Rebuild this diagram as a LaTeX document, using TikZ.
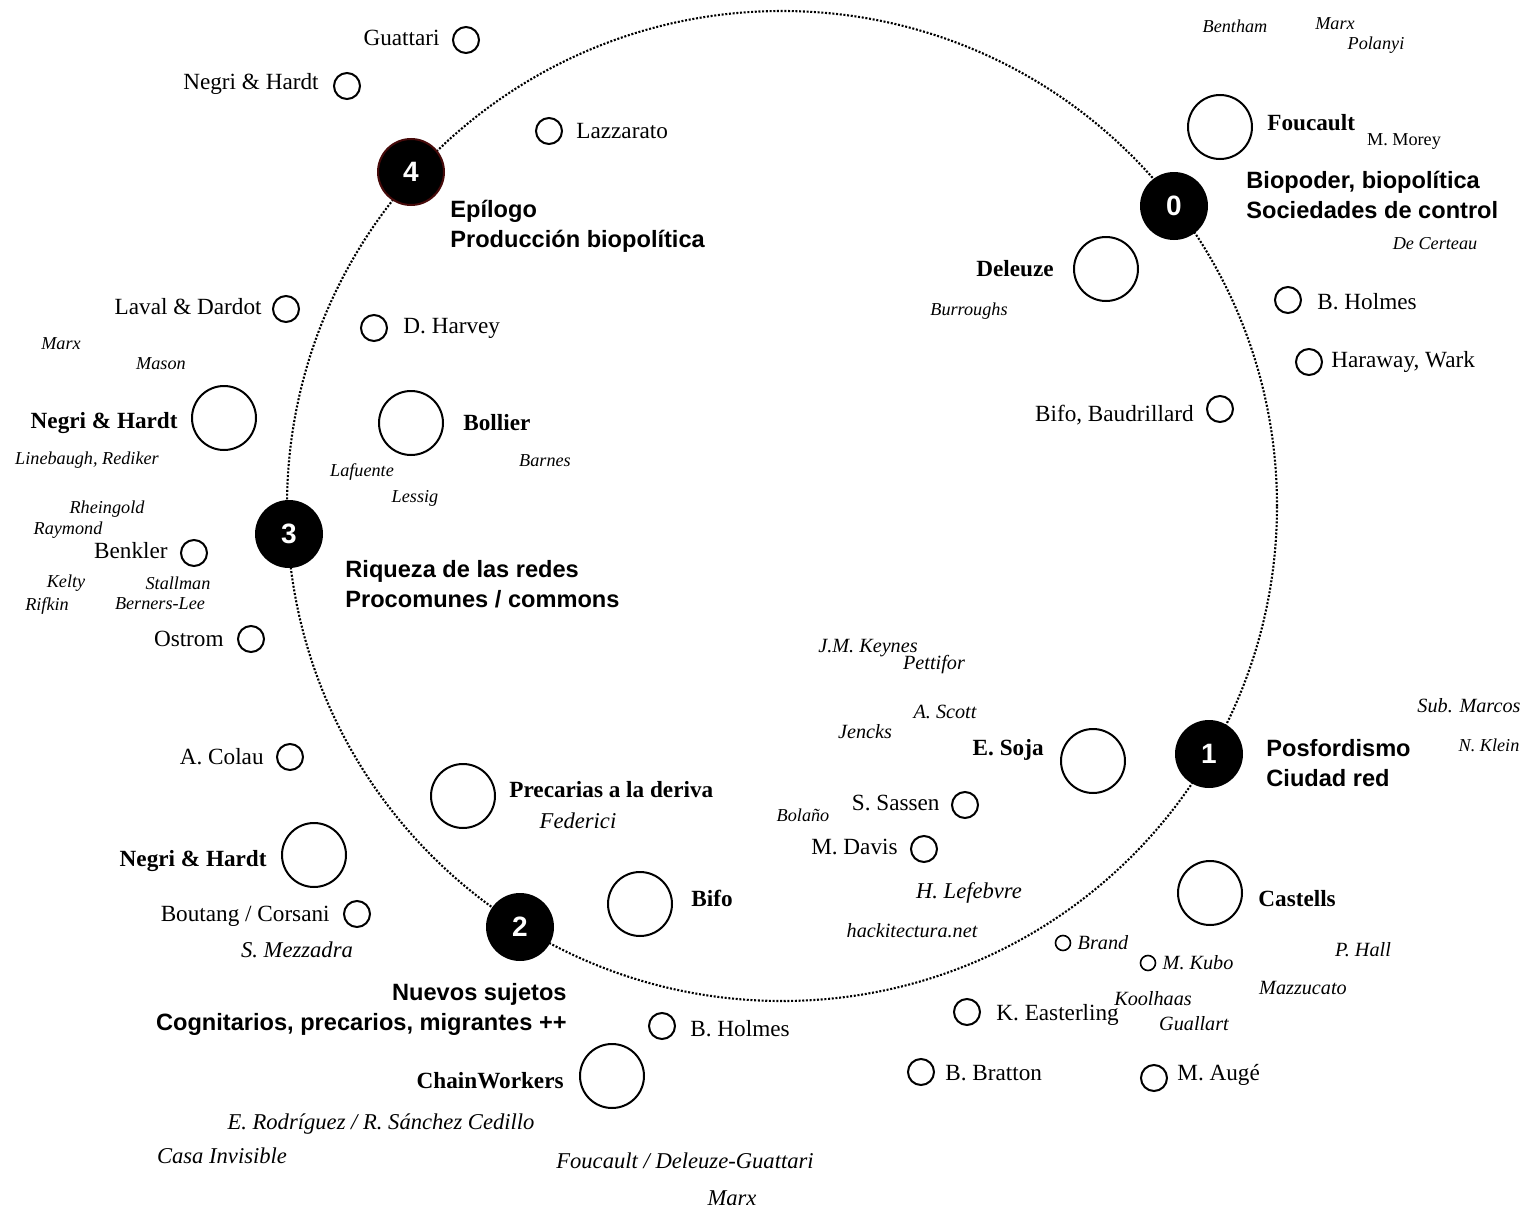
\documentclass[tikz,border=0pt]{standalone}
\usepackage{fontspec}
\setmainfont{Liberation Serif}
\newfontfamily\themefont{Liberation Sans}
\usetikzlibrary{positioning}
\definecolor{hubrim}{RGB}{70,10,10}

\begin{document}
\begin{tikzpicture}
 [ x=0.5pt, y=-0.5pt
 , ring/.style={line width=1.05pt, dash pattern=on 1pt off 0.85pt}
 , hub/.style={circle, fill=black, draw=black, line width=1pt, minimum size=33pt, inner sep=0pt, text=white, font=\themefont\bfseries\fontsize{14}{16}\selectfont}
 , bigdot/.style={circle, draw, line width=1pt, minimum size=32pt, inner sep=0pt}
 , smalldot/.style={circle, draw, line width=1pt, minimum size=13pt, inner sep=0pt}
 , tinydot/.style={circle, draw, line width=0.8pt, minimum size=7.5pt, inner sep=0pt}
 , person/.style={inner sep=0pt, font=\fontsize{11.6}{13}\selectfont}
 , keyperson/.style={inner sep=0pt, font=\bfseries\fontsize{11.6}{13}\selectfont}
 , aside/.style={inner sep=0pt, font=\itshape\fontsize{9.1}{11}\selectfont}
 , mention/.style={inner sep=0pt, font=\itshape\fontsize{10.1}{12}\selectfont}
 , work/.style={inner sep=0pt, font=\itshape\fontsize{11.3}{13}\selectfont}
 , theme/.style={inner sep=0pt, align=left, font=\themefont\bfseries\fontsize{11.8}{15}\selectfont}
 ]
  \path[fill=white] (0,0) rectangle (1522,1210);
  \useasboundingbox (0,0) rectangle (1522,1210);

  % the ring
  \coordinate (centre) at (782,506);
  \draw[ring] (centre) circle [radius=247.5pt];

  % stations
  \node[hub, draw=hubrim] (hub4) at (411,172) {4};
  \node[hub] (hub0) at (1174,206) {0};
  \node[hub] (hub1) at (1209,754) {1};
  \node[hub] (hub2) at (520,927) {2};
  \node[hub] (hub3) at (289,534) {3};

  \node[theme, anchor=west] (theme4) at (450,226) {Epílogo\\Producción biopolítica};
  \node[theme, anchor=west] (theme0) at (1246,195) {Biopoder, biopolítica\\Sociedades de control};
  \node[theme, anchor=west] (theme1) at (1266,763) {Posfordismo\\Ciudad red};
  \node[theme, anchor=east, align=right] (theme2) at (567,1009) {Nuevos sujetos\\Cognitarios, precarios, migrantes ++};
  \node[theme, anchor=west] (theme3) at (345,584) {Riqueza de las redes\\Procomunes / commons};

  % main authors
  \node[bigdot] (foucault) at (1220,127) {};
  \node[keyperson, right=7pt of foucault, yshift=2pt] (foucault-l) {Foucault};
  \node[bigdot] (deleuze) at (1106,269) {};
  \node[keyperson, left=9.5pt of deleuze] (deleuze-l) {Deleuze};
  \node[bigdot] (negri3) at (224,418) {};
  \node[keyperson, left=6.5pt of negri3, yshift=-2.5pt] (negri3-l) {Negri \& Hardt};
  \node[bigdot] (bollier) at (411,423) {};
  \node[keyperson, right=9.5pt of bollier] (bollier-l) {Bollier};
  \node[bigdot] (precarias) at (463,796) {};
  \node[keyperson, right=6.5pt of precarias, yshift=3pt] (precarias-l) {Precarias a la deriva};
  \node[bigdot] (negri2) at (314,855) {};
  \node[keyperson, left=7pt of negri2, yshift=-3pt] (negri2-l) {Negri \& Hardt};
  \node[bigdot] (bifo) at (640,904) {};
  \node[keyperson, right=9pt of bifo, yshift=3pt] (bifo-l) {Bifo};
  \node[bigdot] (chain) at (612,1076) {};
  \node[keyperson, left=7.5pt of chain, yshift=-2.5pt] (chain-l) {ChainWorkers};
  \node[bigdot] (soja) at (1093,761) {};
  \node[keyperson, left=8pt of soja, yshift=5.5pt] (soja-l) {E. Soja};
  \node[bigdot] (castells) at (1210,893) {};
  \node[keyperson, right=7.5pt of castells, yshift=-3pt] (castells-l) {Castells};

  % other authors
  \node[smalldot] (guattari) at (466,40) {};
  \node[person, left=6pt of guattari, yshift=1pt] (guattari-l) {Guattari};
  \node[smalldot] (negri4) at (347,86) {};
  \node[person, left=7pt of negri4, yshift=1pt] (negri4-l) {Negri \& Hardt};
  \node[smalldot] (lazzarato) at (549,131) {};
  \node[person, right=6.5pt of lazzarato] (lazzarato-l) {Lazzarato};
  \node[smalldot] (holmes0) at (1288,300) {};
  \node[person, right=7.5pt of holmes0, yshift=-1pt] (holmes0-l) {B. Holmes};
  \node[smalldot] (haraway) at (1309,362) {};
  \node[person, right=4pt of haraway] (haraway-l) {Haraway, Wark};
  \node[smalldot] (baudrillard) at (1220,409) {};
  \node[person, left=6pt of baudrillard, yshift=-3pt] (baudrillard-l) {Bifo, Baudrillard};
  \node[smalldot] (laval) at (286,309) {};
  \node[person, left=5pt of laval, yshift=1pt] (laval-l) {Laval \& Dardot};
  \node[smalldot] (harvey) at (374,328) {};
  \node[person, right=7.5pt of harvey] (harvey-l) {D. Harvey};
  \node[smalldot] (benkler) at (194,553) {};
  \node[person, left=6pt of benkler, yshift=1pt] (benkler-l) {Benkler};
  \node[smalldot] (ostrom) at (251,639) {};
  \node[person, left=6.5pt of ostrom] (ostrom-l) {Ostrom};
  \node[smalldot] (colau) at (290,757) {};
  \node[person, left=6pt of colau] (colau-l) {A. Colau};
  \node[smalldot] (boutang) at (357,914) {};
  \node[person, left=6.5pt of boutang, yshift=-1pt] (boutang-l) {Boutang / Corsani};
  \node[smalldot] (holmes2) at (662,1026) {};
  \node[person, right=7pt of holmes2, yshift=-1.5pt] (holmes2-l) {B. Holmes};
  \node[smalldot] (sassen) at (965,805) {};
  \node[person, left=5.5pt of sassen, yshift=1pt] (sassen-l) {S. Sassen};
  \node[smalldot] (davis) at (924,849) {};
  \node[person, left=6pt of davis, yshift=1pt] (davis-l) {M. Davis};
  \node[smalldot] (easterling) at (967,1012) {};
  \node[person, right=7.5pt of easterling, yshift=-1.5pt] (easterling-l) {K. Easterling};
  \node[smalldot] (bratton) at (921,1072) {};
  \node[person, right=5pt of bratton, yshift=-0.5pt] (bratton-l) {B. Bratton};
  \node[smalldot] (auge) at (1154,1078) {};
  \node[person, right=4.5pt of auge, yshift=1.5pt] (auge-l) {M. Augé};
  \node[tinydot] (brand) at (1063,943) {};
  \node[mention, right=3pt of brand] (brand-l) {Brand};
  \node[tinydot] (kubo) at (1148,963) {};
  \node[mention, right=3pt of kubo] (kubo-l) {M. Kubo};

  \node[person, font=\fontsize{9.1}{11}\selectfont] (morey) at (1404,142) {M. Morey};

  % loose references
  \node[aside] (bentham) at (1235,26) {Bentham};
  \node[aside] (marx0) at (1335,24) {Marx};
  \node[aside] (polanyi) at (1376,45) {Polanyi};
  \node[aside] (certeau) at (1435,244) {De Certeau};
  \node[aside] (burroughs) at (969,311) {Burroughs};
  \node[aside] (marx3) at (61,344) {Marx};
  \node[aside] (mason) at (161,364) {Mason};
  \node[aside] (linebaugh) at (87,460) {Linebaugh, Rediker};
  \node[aside] (barnes) at (545,461) {Barnes};
  \node[aside] (lafuente) at (362,472) {Lafuente};
  \node[aside] (lessig) at (415,498) {Lessig};
  \node[aside] (rheingold) at (107,509) {Rheingold};
  \node[aside] (raymond) at (68,530) {Raymond};
  \node[aside] (kelty) at (66,583) {Kelty};
  \node[aside] (stallman) at (178,583) {Stallman};
  \node[aside] (rifkin) at (47,606) {Rifkin};
  \node[aside] (berners) at (160,604) {Berners-Lee};
  \node[aside] (bolano) at (803,815) {Bolaño};
  \node[aside] (klein) at (1489,745) {N. Klein};

  \node[mention] (keynes) at (868,648) {J.M. Keynes};
  \node[mention] (pettifor) at (934,665) {Pettifor};
  \node[mention] (scott) at (945,712) {A. Scott};
  \node[mention] (jencks) at (865,732) {Jencks};
  \node[mention] (hackitectura) at (912,931) {hackitectura.net};
  \node[mention] (marcos) at (1469,706) {Sub. Marcos};
  \node[mention] (hall) at (1363,950) {P. Hall};
  \node[mention] (mazzucato) at (1303,988) {Mazzucato};
  \node[mention] (koolhaas) at (1153,999) {Koolhaas};
  \node[mention] (guallart) at (1194,1024) {Guallart};

  \node[work] (lefebvre) at (969,893) {H. Lefebvre};
  \node[work] (federici) at (578,821) {Federici};
  \node[work] (mezzadra) at (297,950) {S. Mezzadra};
  \node[work] (rodriguez) at (381,1124) {E. Rodríguez / R. Sánchez Cedillo};
  \node[work] (casa) at (222,1156) {Casa Invisible};
  \node[work] (deleuzeg) at (685,1161) {Foucault / Deleuze-Guattari};
  \node[work] (marx2) at (732,1198) {Marx};
\end{tikzpicture}
\end{document}
